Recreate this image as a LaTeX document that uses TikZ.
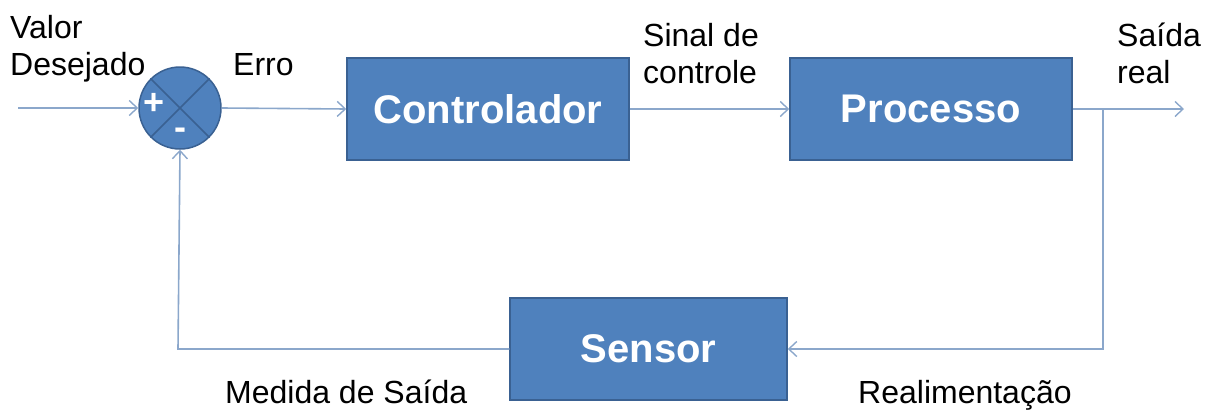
\documentclass[tikz,border=0pt]{standalone}
\usepackage{fontspec}
\setmainfont{Liberation Sans}
\usetikzlibrary{arrows.meta}
\definecolor{boxblue}{HTML}{4F81BD}
\definecolor{boxedge}{HTML}{3A6192}
\definecolor{linecol}{HTML}{8BA7CB}
\tikzset{
  blockbox/.style={draw=boxedge, line width=1.5pt, fill=boxblue, minimum width=282pt, minimum height=102pt, inner sep=0pt, text=white, font=\fontsize{40}{44}\selectfont\bfseries},
  sigline/.style={draw=linecol, line width=1.6pt},
  sigarrow/.style={sigline, -{Straight Barb[length=8pt,width=15pt,line width=1.4pt]}},
  lbl/.style={anchor=base west, inner sep=0pt, align=left, font=\fontsize{32}{37}\selectfont, text=black},
  sumsign/.style={inner sep=0pt, text=white, font=\fontsize{36}{36}\selectfont\bfseries}
}
\begin{document}
\begin{tikzpicture}[x=1pt,y=-1pt]
\useasboundingbox (0,0) rectangle (1206,410);
% summing junction
\node[circle, draw=boxedge, line width=1.5pt, fill=boxblue, minimum size=82pt, inner sep=0pt] (sum) at (180,108) {};
\draw[boxedge, line width=1.5pt] (sum.north west) -- (sum.south east) (sum.north east) -- (sum.south west);
\node[sumsign] (plus) at (154,104) {+};
\node[sumsign] (minus) at (180,134) {-};
% blocks
\node[blockbox] (ctrl) at (488,109) {Controlador};
\node[blockbox] (proc) at (931,109) {Processo};
\node[blockbox, minimum width=277pt] (sens) at (648.5,349) {Sensor};
% coordinates
\coordinate (in) at (18,108);
\coordinate (out) at (1184,109);
\coordinate (br) at (1103,109);
\coordinate (brd) at (1103,349);
\coordinate (fbl) at (178,349);
% connectors
\draw[sigarrow] (in) -- (sum.west);
\draw[sigarrow] (sum.east) -- (ctrl.west);
\draw[sigarrow] (ctrl.east) -- (proc.west);
\draw[sigarrow] (proc.east) -- (out);
\draw[sigarrow] (br) -- (brd) -- (sens.east);
\draw[sigarrow] (sens.west) -- (fbl) -- (sum.south);
% labels
\node[lbl] (valor) at (10,75) {Valor\\Desejado};
\node[lbl] (erro) at (233,75) {Erro};
\node[lbl] (sinal) at (643,83) {Sinal de\\controle};
\node[lbl] (saida) at (1117,83) {Saída\\real};
\node[lbl] (medida) at (225,403) {Medida de Saída};
\node[lbl] (realim) at (858,403) {Realimentação};
\end{tikzpicture}
\end{document}
